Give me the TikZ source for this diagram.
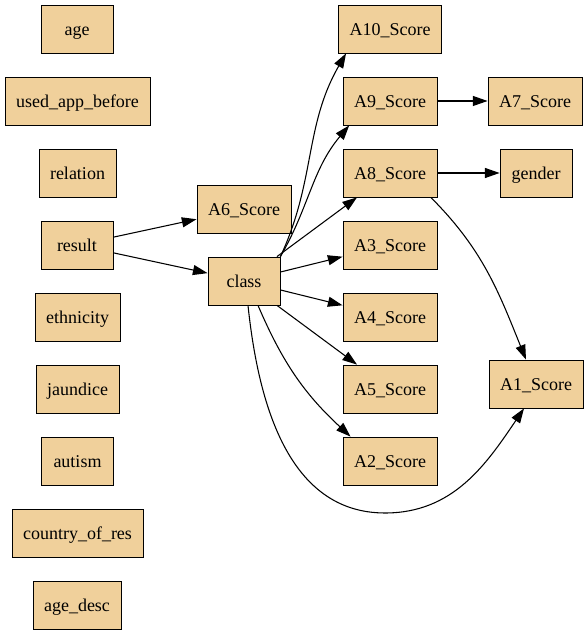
\documentclass[tikz,border=0pt]{standalone}
\usepackage{fontspec}
\setmainfont{Liberation Serif}
\usetikzlibrary{arrows.meta}
\definecolor{boxc}{HTML}{F0D09B}
\tikzset{
  nd/.style={rectangle,draw=black,line width=0.6pt,fill=boxc,minimum width=54pt,minimum height=36pt,inner xsep=8.3pt,text height=11pt,text depth=1pt,font=\fontsize{13.5}{16}\selectfont},
  ar/.style={-{Triangle[length=11pt,width=7.5pt]},line width=0.8pt,black}
}
\begin{document}
\begin{tikzpicture}[x=0.75pt,y=0.75pt]
\useasboundingbox (0,0) rectangle (588,635);
% left column
\node[nd] (age) at (77,606) {age};
\node[nd] (usedapp) at (77.5,534) {used\_app\_before};
\node[nd] (relation) at (77.5,462) {relation};
\node[nd] (result) at (77,390) {result};
\node[nd] (ethnicity) at (77.5,318) {ethnicity};
\node[nd] (jaundice) at (77.5,246) {jaundice};
\node[nd] (autism) at (77.5,174) {autism};
\node[nd] (country) at (77.5,102) {country\_of\_res};
\node[nd] (agedesc) at (77,30) {age\_desc};
% middle
\node[nd] (A6) at (244,426) {A6\_Score};
\node[nd] (class) at (244,354) {class};
% score column
\node[nd] (A10) at (390,606) {A10\_Score};
\node[nd] (A9) at (390,534) {A9\_Score};
\node[nd] (A8) at (390,462) {A8\_Score};
\node[nd] (A3) at (390,390) {A3\_Score};
\node[nd] (A4) at (390,318) {A4\_Score};
\node[nd] (A5) at (390,246) {A5\_Score};
\node[nd] (A2) at (390,174) {A2\_Score};
% right column
\node[nd] (A7) at (535,534) {A7\_Score};
\node[nd] (gender) at (536,462) {gender};
\node[nd] (A1) at (536,251) {A1\_Score};
\coordinate (lowbend) at (385,122);
% edges
\draw[ar] (result) -- (A6);
\draw[ar] (result) -- (class);
\draw[ar] (class.north east) to[out=65,in=-120] ([xshift=6pt]A10.south west);
\draw[ar] (class.north east) to[out=60,in=-130] ([xshift=5pt]A9.south west);
\draw[ar] (class) -- (A8);
\draw[ar] (class) -- (A3);
\draw[ar] (class) -- (A4);
\draw[ar] (class) -- (A5);
\draw[ar] ([xshift=10.5pt]class.south) to[bend right=12] ([xshift=6pt]A2.north west);
\draw[ar] ([xshift=3pt]class.south) to[out=-84,in=180] (lowbend) to[out=0,in=-124] ([xshift=-9pt]A1.south);
\draw[ar] (A9) -- (A7);
\draw[ar] (A8) -- (gender);
\draw[ar] ([xshift=-5pt]A8.south east) to[out=-45,in=112] ([xshift=-7.5pt]A1.north);
\end{tikzpicture}
\end{document}
